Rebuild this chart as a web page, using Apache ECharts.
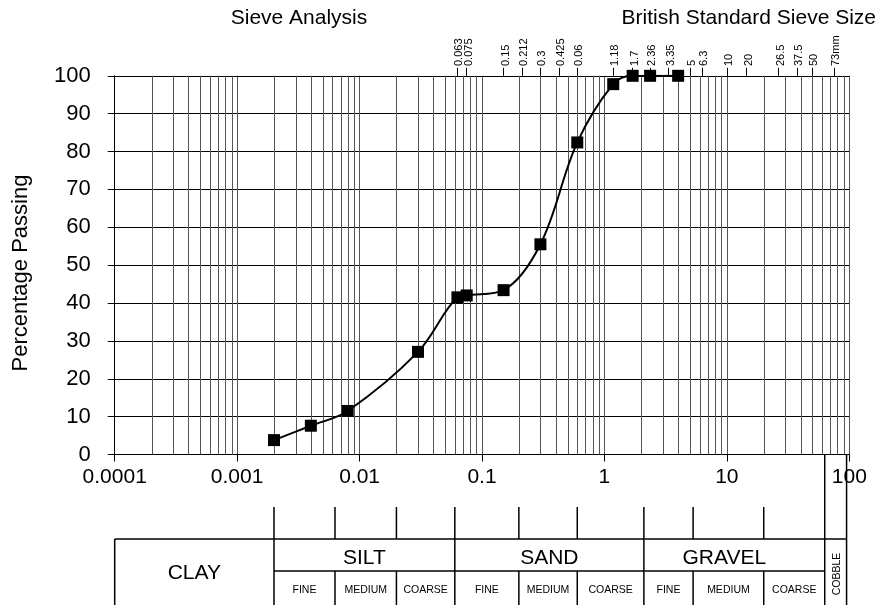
<!DOCTYPE html>
<html><head><meta charset="utf-8">
<script src="https://cdn.jsdelivr.net/npm/echarts@6/dist/echarts.min.js"></script>
<style>html,body{margin:0;padding:0;background:#fff}#c{width:881px;height:605px}</style>
</head><body><div id="c"></div>
<script>
// ---- data ----
const particleSizeMm = [0.002, 0.004, 0.008, 0.03, 0.063, 0.075, 0.15, 0.3, 0.6, 1.18, 1.7, 2.36, 4];
const percentPassing = [3.8, 7.6, 11.5, 27.1, 41.5, 42.0, 43.4, 55.5, 82.4, 97.8, 100, 100, 100];
const xTickLabels = ['0.0001', '0.001', '0.01', '0.1', '1', '10', '100'];
const sieveTickValues = [0.063, 0.075, 0.15, 0.212, 0.3, 0.425, 0.6, 1.18, 1.7, 2.36, 3.35, 5, 6.3, 10, 14.5, 26.5, 37.5, 50, 75];
const sieveTickLabels = ['0.063', '0.075', '0.15', '0.212', '0.3', '0.425', '0.06', '1.18', '1.7', '2.36', '3.35', '5', '6.3', '10', '20', '26.5', '37.5', '50', '73mm'];
const classBoundaries = [0.002, 0.0063, 0.02, 0.06, 0.2, 0.6, 2.1, 5.3, 20, 63, 95];
const soilGroups = ['CLAY', 'SILT', 'SAND', 'GRAVEL', 'COBBLE'];
const subGroups = ['FINE', 'MEDIUM', 'COARSE'];
const titleText = 'Sieve Analysis';
const sieveTitleText = 'British Standard Sieve Size';
const yAxisTitle = 'Percentage Passing';

const FONT = '"Liberation Sans", Arial, Helvetica, sans-serif';
const X_MIN = 0.0001, X_MAX = 100;
const GRID_V = '#555';

// minor (2..9) log gridlines of each decade
const minorGrid = [];
for (let e = -4; e < 2; e++) for (let m = 2; m <= 9; m++) minorGrid.push(m * Math.pow(10, e));

const chart = echarts.init(document.getElementById('c'));
const option = {
  animation: false,
  backgroundColor: '#fff',
  grid: { left: 114.7, right: 881 - 849.3, top: 75.8, bottom: 605 - 454.5 },
  xAxis: [{
    type: 'log', logBase: 10, min: X_MIN, max: X_MAX, splitNumber: 6,
    axisLine: { show: true, lineStyle: { color: '#000', width: 1 } },
    axisTick: { show: true, inside: false, length: 7, lineStyle: { color: '#000' } },
    axisLabel: { color: '#000', fontSize: 21, fontFamily: FONT, margin: 12,
      formatter: v => xTickLabels[Math.round(Math.log10(v) + 4)] },
    splitLine: { show: true, lineStyle: { color: GRID_V, width: 1 } },
    minorTick: { show: false }, minorSplitLine: { show: false }
  }, {
    type: 'log', logBase: 10, min: X_MIN, max: X_MAX, position: 'top',
    axisLine: { show: true, lineStyle: { color: '#000', width: 1 } },
    axisTick: { show: true, inside: false, length: 8, customValues: sieveTickValues, lineStyle: { color: '#000' } },
    axisLabel: { show: false },
    splitLine: { show: false }
  }],
  yAxis: {
    type: 'value', min: 0, max: 100, interval: 10,
    axisLine: { show: true, lineStyle: { color: '#000', width: 1 } },
    axisTick: { show: true, inside: false, length: 7, lineStyle: { color: '#000' } },
    axisLabel: { color: '#000', fontSize: 22, fontFamily: FONT, margin: 24 },
    splitLine: { show: true, lineStyle: { color: '#000', width: 1 } }
  },
  series: [{
    type: 'custom', name: 'minor grid', silent: true, z: 1,
    data: minorGrid.map(v => [v, 0]),
    encode: { x: 0, y: 1 },
    renderItem: (params, api) => {
      const v = api.value(0);
      const p1 = api.coord([v, 0]);
      const p2 = api.coord([v, 100]);
      const x = Math.round(p1[0]) + 0.5;
      return { type: 'line', silent: true, shape: { x1: x, y1: p1[1], x2: x, y2: p2[1] },
        style: { stroke: GRID_V, lineWidth: 1 } };
    }
  }, {
    type: 'line', name: 'passing', z: 5,
    data: particleSizeMm.map((x, i) => [x, percentPassing[i]]),
    smooth: 0.35,
    symbol: 'rect', symbolSize: 12,
    itemStyle: { color: '#000' },
    lineStyle: { color: '#000', width: 2 }
  }]
};
chart.setOption(option);

// ---- classification table, sieve labels and free texts, positioned through the x axis scale ----
const px = v => chart.convertToPixel({ xAxisIndex: 0 }, v);
const xl = px(X_MIN);
const b = classBoundaries.map(px);
const yAxisPix = chart.convertToPixel({ yAxisIndex: 0 }, 0);
const Y_SHORT = 507, Y_TOP = 539, Y_SUB = 571, Y_BOT = 606;
const lineStyle = { stroke: '#000', lineWidth: 1.5 };
const g = [];
function L(x1, y1, x2, y2) { g.push({ type: 'line', silent: true, shape: { x1, y1, x2, y2 }, style: lineStyle }); }
function T(text, x, y, size, rot, align) {
  g.push({ type: 'text', silent: true, x, y, rotation: rot || 0,
    style: { text, fill: '#000', font: size + 'px ' + FONT, align: align || 'center', verticalAlign: 'middle' } });
}
// short marks above the table
for (let i = 0; i <= 8; i++) L(b[i], Y_SHORT, b[i], Y_TOP);
// frame
L(xl, Y_TOP, b[10], Y_TOP);
L(xl, Y_TOP, xl, Y_BOT);
L(b[0], Y_SUB, b[9], Y_SUB);
[0, 3, 6].forEach(i => L(b[i], Y_TOP, b[i], Y_BOT));
[1, 2, 4, 5, 7, 8].forEach(i => L(b[i], Y_SUB, b[i], Y_BOT));
L(b[9], yAxisPix, b[9], Y_BOT);
L(b[10], yAxisPix, b[10], Y_BOT);
// group names
T(soilGroups[0], (xl + b[0]) / 2, 573, 21);
T(soilGroups[1], (b[0] + b[3]) / 2, 558, 21);
T(soilGroups[2], (b[3] + b[6]) / 2, 558, 21);
T(soilGroups[3], (b[6] + b[9]) / 2 - 10, 558, 21);
T(soilGroups[4], (b[9] + b[10]) / 2 + 1, 574, 10.5, Math.PI / 2);
[[0, 1, 2, 3], [3, 4, 5, 6], [6, 7, 8, 9]].forEach(grp => {
  for (let k = 0; k < 3; k++) T(subGroups[k], (b[grp[k]] + b[grp[k + 1]]) / 2, 590, 10.5);
});
// British Standard sieve labels (rotated, reading upward from above each tick)
sieveTickValues.forEach((v, i) => T(sieveTickLabels[i], px(v) + 2, 66, 11, Math.PI / 2, 'left'));
// titles
T(titleText, 299, 18, 21);
T(sieveTitleText, 876, 18, 21, 0, 'right');
T(yAxisTitle, 21, 273, 22, Math.PI / 2);
chart.setOption({ graphic: g });
</script>
</body></html>
